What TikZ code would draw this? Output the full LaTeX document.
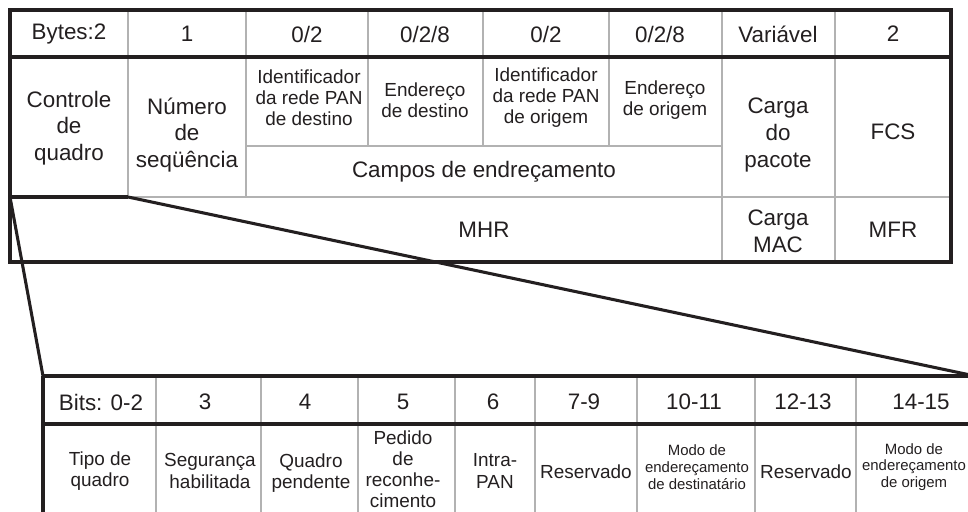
\documentclass[tikz,border=0pt]{standalone}
\usepackage{fontspec}
\setmainfont{Liberation Sans}
\begin{document}
\begin{tikzpicture}[x=0.75pt,y=-0.75pt,
  thk/.style={draw=c1,line width=2.3pt},
  thn/.style={draw=c2,line width=0.8pt},
  big/.style={text=c1,align=center,inner sep=0pt,font=\fontsize{16.8}{20}\selectfont},
  mid/.style={text=c1,align=center,inner sep=0pt,font=\fontsize{14.2}{15.8}\selectfont},
  sml/.style={text=c1,align=center,inner sep=0pt,font=\fontsize{11.2}{12.5}\selectfont}]
\definecolor{c1}{RGB}{35,31,32}
\definecolor{c2}{RGB}{178,178,178}
\useasboundingbox (0,0) rectangle (968,511);
\clip (0,0) rectangle (968,511);
\draw[thn] (128,10) -- (128,197);
\draw[thn] (246,10) -- (246,197);
\draw[thn] (368,10) -- (368,146);
\draw[thn] (483,10) -- (483,146);
\draw[thn] (609,10) -- (609,146);
\draw[thn] (722,10) -- (722,262);
\draw[thn] (835,10) -- (835,262);
\draw[thn] (246,146) -- (722,146);
\draw[thn] (128,197) -- (951,197);
\draw[thn] (156,376) -- (156,520);
\draw[thn] (261,376) -- (261,520);
\draw[thn] (358,376) -- (358,520);
\draw[thn] (455,376) -- (455,520);
\draw[thn] (535,376) -- (535,520);
\draw[thn] (637,376) -- (637,520);
\draw[thn] (755,376) -- (755,520);
\draw[thn] (856,376) -- (856,520);
\draw[thk] (10,10) rectangle (951,262);
\draw[thk] (10,57) -- (951,57);
\draw[thk] (10,197) -- (128,197);
\draw[thk] (43,376) -- (990,376);
\draw[thk] (43,424) -- (990,424);
\draw[thk] (43,376) -- (43,520);
\coordinate (fl) at (10,197);
\coordinate (fr) at (128,197);
\coordinate (tl) at (43,376);
\coordinate (tr) at (975,376);
\draw[thk,line join=miter] (fl) -- (tl);
\draw[thk] (fr) -- (tr);
\node[big] (h1) at (69,34) {Bytes:2};
\node[big] (h2) at (187,34) {1};
\node[big] (h3) at (307,34) {0/2};
\node[big] (h4) at (425,34) {0/2/8};
\node[big] (h5) at (546,34) {0/2};
\node[big] (h6) at (660,34) {0/2/8};
\node[big] (h7) at (778,34) {Variável};
\node[big] (h8) at (893,34) {2};
\node[big] (ctl) at (69,128) {Controle\\de\\quadro};
\node[big] (seq) at (187,135) {Número\\de\\seqüência};
\node[mid] (pand) at (309,98) {Identificador\\da rede PAN\\de destino};
\node[mid] (endd) at (425,100) {Endereço\\de destino};
\node[mid] (pano) at (546,98) {Identificador\\da rede PAN\\de origem};
\node[mid] (endo) at (665,100) {Endereço\\de origem};
\node[big] (cmp) at (484,172) {Campos de endreçamento};
\node[big] (carg) at (778,135) {Carga\\do\\pacote};
\node[big] (fcs) at (893,132) {FCS};
\node[big] (mhr) at (484,230) {MHR};
\node[big] (mac) at (778,231) {Carga\\MAC};
\node[big] (mfr) at (893,230) {MFR};
\node[big] (b1) at (101,402) {Bits: 0-2};
\node[big] (b2) at (205,402) {3};
\node[big] (b3) at (305,402) {4};
\node[big] (b4) at (403,402) {5};
\node[big] (b5) at (493,402) {6};
\node[big] (b6) at (584,402) {7-9};
\node[big] (b7) at (694,402) {10-11};
\node[big] (b8) at (803,402) {12-13};
\node[big] (b9) at (921,402) {14-15};
\node[mid] (tip) at (100,471) {Tipo de\\quadro};
\node[mid] (seg) at (210,471) {Segurança\\habilitada};
\node[mid] (pen) at (311,473) {Quadro\\pendente};
\node[mid] (ack) at (403,469) {Pedido\\de\\reconhe-\\cimento};
\node[mid] (intra) at (495,471) {Intra-\\PAN};
\node[mid] (res1) at (586,472) {Reservado};
\node[sml] (mdst) at (697,467) {Modo de\\endereçamento\\de destinatário};
\node[mid] (res2) at (806,472) {Reservado};
\node[sml] (morg) at (914,467) {Modo de\\endereçamento\\de origem};
\end{tikzpicture}
\end{document}
